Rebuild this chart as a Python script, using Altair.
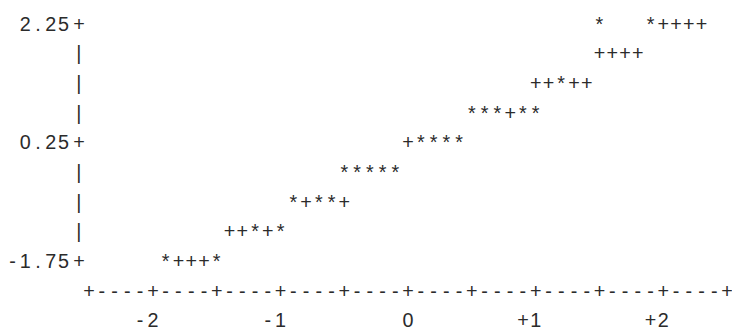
import altair as alt
import pandas as pd

# ---- data (normal probability plot) ----
# each plotted row: y value, x of first character, characters (step 0.1 in x)
row_y = [2.25, 2.25, 1.75, 1.25, 0.75, 0.25, -0.25, -0.75, -1.25, -1.75]
row_x0 = [1.5, 1.9, 1.5, 1.0, 0.5, 0.0, -0.5, -0.9, -1.4, -1.9]
row_sym = ["*", "*++++", "++++", "++*++", "***+**", "+****", "*****", "*+**+", "++*+*", "*+++*"]

# axes
x_tick_vals = [-2, -1, 0, 1, 2]
x_tick_text = ["-2", "-1", "0", "+1", "+2"]
y_tick_vals = [2.25, 0.25, -1.75]
y_tick_text = ["2.25", "0.25", "-1.75"]
x_axis_min, x_axis_max = -2.5, 2.5
y_axis_min, y_axis_max = -1.75, 2.25
step_x = 0.1
step_y = 0.5

records = []
for y, x0, s in zip(row_y, row_x0, row_sym):
    for i, ch in enumerate(s):
        records.append({"x": round(x0 + i * step_x, 3), "y": y, "t": ch})

# horizontal axis line "+----+----..."
axis_y = y_axis_min - step_y
n = int(round((x_axis_max - x_axis_min) / step_x))
for i in range(n + 1):
    records.append({"x": round(x_axis_min + i * step_x, 3), "y": axis_y,
                    "t": "+" if i % 5 == 0 else "-"})

# vertical axis "+ | | | +"
axis_x = x_axis_min - 0.08
m = int(round((y_axis_max - y_axis_min) / step_y))
for j in range(m + 1):
    yy = y_axis_max - j * step_y
    records.append({"x": axis_x, "y": yy,
                    "t": "+" if any(abs(yy - v) < 1e-9 for v in y_tick_vals) else "|"})

# y tick labels, right aligned, one character per cell
for v, lab in zip(y_tick_vals, y_tick_text):
    for k, ch in enumerate(reversed(lab)):
        records.append({"x": round(x_axis_min - (k + 2) * step_x, 3), "y": v, "t": ch})

# x tick labels, last character under the tick
for v, lab in zip(x_tick_vals, x_tick_text):
    for k, ch in enumerate(reversed(lab)):
        records.append({"x": round(v - k * step_x, 3), "y": axis_y - step_y, "t": ch})

df = pd.DataFrame(records)

W, H = 732, 324
xs = alt.Scale(domain=[-404.5 / 129, (W - 404.5) / 129], nice=False, zero=False)
ys = alt.Scale(domain=[-2.9, 2.5], nice=False, zero=False)

chart = alt.Chart(df).mark_text(
    font="Liberation Sans", fontSize=20, align="center", baseline="middle", color="#2b2b2b"
).encode(
    x=alt.X("x:Q", scale=xs, axis=None),
    y=alt.Y("y:Q", scale=ys, axis=None),
    text="t:N",
).properties(
    width=W, height=H, autosize=alt.AutoSizeParams(type="none"), padding=0
).configure_view(stroke=None)

chart.save("out.html", embed_options={"renderer": "svg", "actions": False})
